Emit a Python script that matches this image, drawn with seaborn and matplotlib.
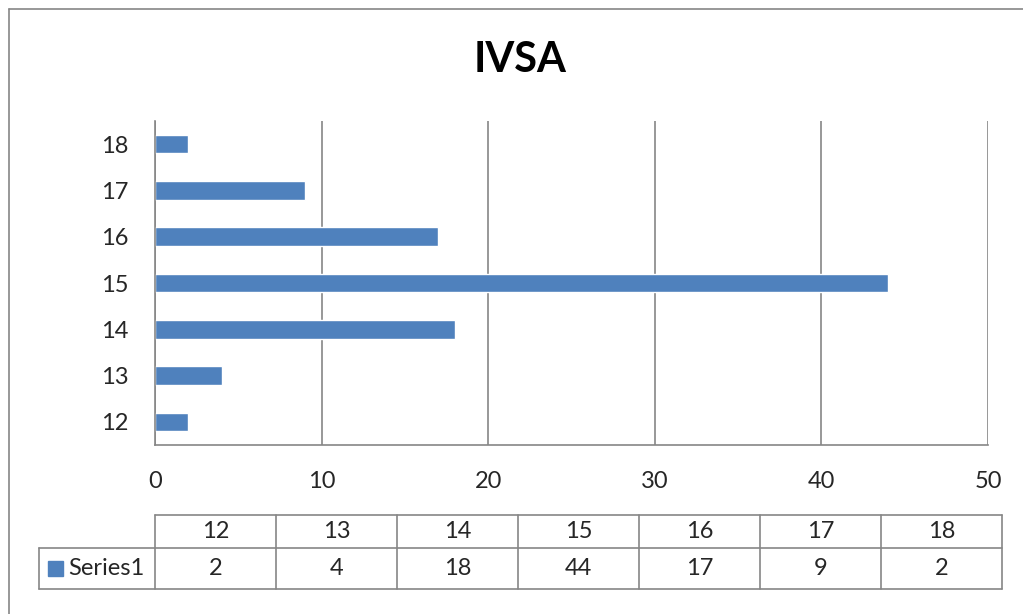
import matplotlib.pyplot as plt
import matplotlib.lines as mlines
import matplotlib.patches as mpatches
import seaborn as sns
import pandas as pd

ages = ["12", "13", "14", "15", "16", "17", "18"]
counts = [2, 4, 18, 44, 17, 9, 2]
series_name = "Series1"
x_ticks = [0, 10, 20, 30, 40, 50]

bar_color = "#4f81bd"
grid_color = "#868686"
font = "Lato"
fs = 17

sns.set_theme(style="white")
plt.rcParams["font.family"] = [font, "DejaVu Sans"]

W, H = 1023, 614
fig = plt.figure(figsize=(W / 100, H / 100), dpi=100)

def fx(px):
    return px / W

def fy(py):
    return 1 - py / H

# plot area
ax = fig.add_axes([fx(155), fy(445), fx(988) - fx(155), fy(121) - fy(445)])
df = pd.DataFrame({"age": ages, "count": counts})
sns.barplot(data=df, x="count", y="age", order=ages[::-1], orient="h",
            color=bar_color, saturation=1, width=0.4, ax=ax)

ax.set_xlim(0, 50)
ax.set_xticks(x_ticks)
ax.set_xticklabels([str(t) for t in x_ticks], fontsize=fs)
ax.tick_params(axis="x", pad=19, length=0)
ax.tick_params(axis="y", pad=19, length=0, labelsize=fs)
ax.set_xlabel("")
ax.set_ylabel("")
ax.xaxis.grid(True, color=grid_color, linewidth=1.2)
ax.set_axisbelow(True)
for side in ["top", "right"]:
    ax.spines[side].set_visible(False)
for side in ["left", "bottom"]:
    ax.spines[side].set_color(grid_color)
    ax.spines[side].set_linewidth(1.2)

# title
fig.text(fx(520), fy(60), "IVSA", ha="center", va="center",
         fontsize=30, fontweight="bold", color="black")

# outer chart border (top and left only visible)
fig.add_artist(mlines.Line2D([fx(9), 1], [fy(9), fy(9)], color=grid_color, lw=1.2))
fig.add_artist(mlines.Line2D([fx(9), fx(9)], [fy(9), 0], color=grid_color, lw=1.2))

# data table
col_left, col_w = 155, 121
row_top, row_mid, row_bot = 515, 548, 589
legend_left = 39
table_right = col_left + col_w * len(ages)
lc = dict(color=grid_color, lw=1.2)

def hline(x0, x1, y):
    fig.add_artist(mlines.Line2D([fx(x0), fx(x1)], [fy(y), fy(y)], **lc))

def vline(x, y0, y1):
    fig.add_artist(mlines.Line2D([fx(x), fx(x)], [fy(y0), fy(y1)], **lc))

hline(col_left, table_right, row_top)
hline(legend_left, table_right, row_mid)
hline(legend_left, table_right, row_bot)
vline(legend_left, row_mid, row_bot)
for i in range(len(ages) + 1):
    vline(col_left + i * col_w, row_top, row_bot)

for i, (a, c) in enumerate(zip(ages, counts)):
    cx = col_left + (i + 0.5) * col_w
    fig.text(fx(cx), fy((row_top + row_mid) / 2), a, ha="center", va="center", fontsize=fs)
    fig.text(fx(cx), fy((row_mid + row_bot) / 2), str(c), ha="center", va="center", fontsize=fs)

# legend key
fig.add_artist(mpatches.Rectangle((fx(48), fy(576)), fx(15), fy(561) - fy(576),
                                  color=bar_color, transform=fig.transFigure))
fig.text(fx(68), fy((row_mid + row_bot) / 2), series_name, ha="left", va="center", fontsize=fs)

fig.savefig("out.png", dpi=100)
